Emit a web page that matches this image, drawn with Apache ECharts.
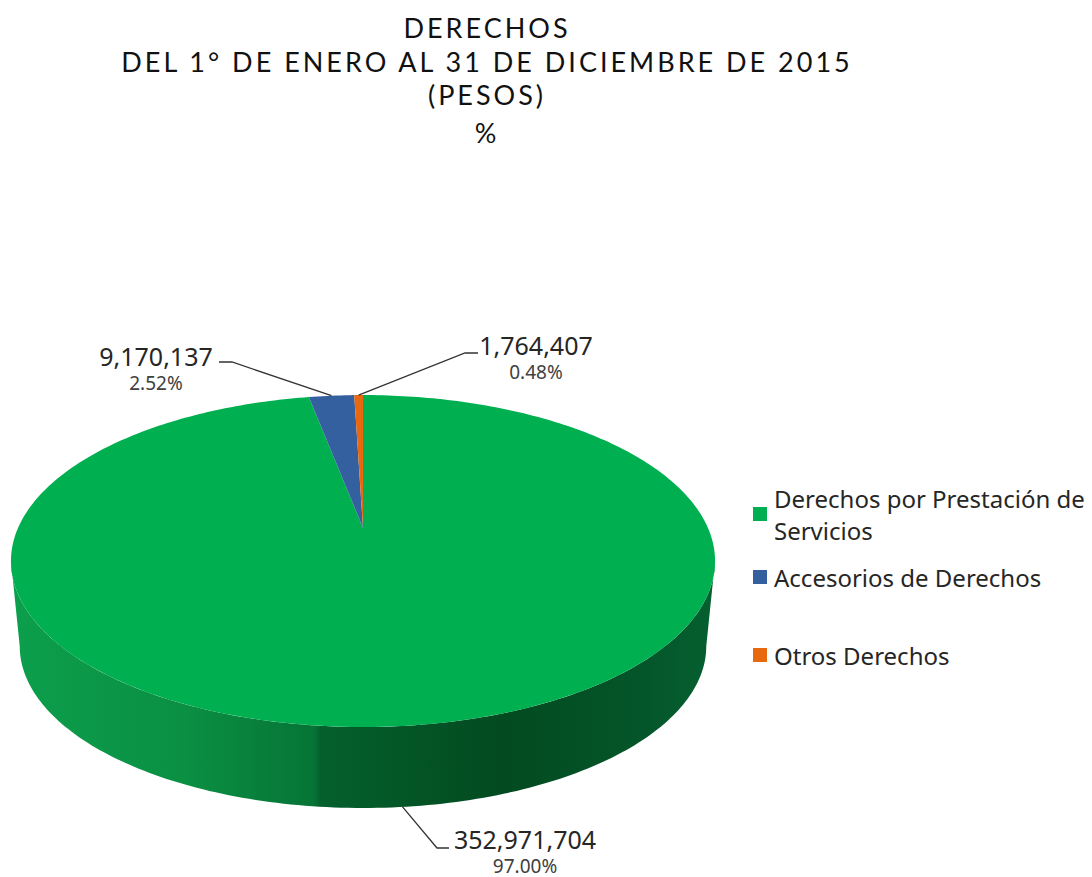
<!DOCTYPE html>
<html>
<head>
<meta charset="utf-8">
<style>
  html, body { margin: 0; padding: 0; background: #fff; }
  #chart { width: 1092px; height: 877px; }
  /* ECharts has no letter spacing option, the svg renderer lets css do it */
  #chart text[style*="Lato"] { letter-spacing: 3px; }
</style>
<script src="https://cdn.jsdelivr.net/npm/echarts@6/dist/echarts.min.js"></script>
</head>
<body>
<div id="chart"></div>
<script>
const titleLines = ['DERECHOS', 'DEL 1° DE ENERO AL 31 DE DICIEMBRE DE 2015', '(PESOS)', '%']
const categories = ['Derechos por Prestación de\nServicios', 'Accesorios de Derechos', 'Otros Derechos']
const values = [352971704, 9170137, 1764407]
const percents = ['97.00%', '2.52%', '0.48%']
const colors = ['#00b050', '#35609f', '#e8680f']

const total = values.reduce((a, b) => a + b, 0)
const chart = echarts.init(document.getElementById('chart'), null, { renderer: 'svg' })

// perspective disc: center of the top face, k is the tilt
const cx = 363
const k = 0.199
const topFace = { cy: 528, a: 345, b: 159.4 }
const bottomFace = { cy: 614, a: 336.4, b: 155.4 }
// angles where the disc is widest on screen, the wall runs between them
const wallFrom = Math.acos(-k) * 180 / Math.PI
const wallTo = 360 - wallFrom

const project = (face, deg) => {
  const t = deg * Math.PI / 180
  const w = 1 + k * Math.cos(t)
  return [cx + face.a * Math.sin(t) / w, face.cy - face.b * Math.cos(t) / w]
}

const arc = (face, from, to) => {
  const n = Math.max(2, Math.ceil(Math.abs(to - from)))
  const pts = []
  for (let i = 0; i <= n; i++) pts.push(project(face, from + (to - from) * i / n))
  return pts
}

const wallFill = {
  type: 'linear', x: 0, y: 0, x2: 1, y2: 0,
  colorStops: [
    { offset: 0, color: '#0c9f4c' },
    { offset: 0.25, color: '#0a8f43' },
    { offset: 0.43, color: '#067436' },
    { offset: 0.44, color: '#04602d' },
    { offset: 0.7, color: '#034a20' },
    { offset: 0.9, color: '#04562a' },
    { offset: 1, color: '#056030' }
  ]
}

// where each label sits, the leader starts on the slice itself
const labelLayout = [
  { x: 525, y: 852, knee: [437, 848], end: [449, 848], face: bottomFace },
  { x: 156, y: 369, knee: [232, 362], end: [219, 362], face: topFace },
  { x: 536, y: 358, knee: [465, 353], end: [478, 353], face: topFace }
]

const makeSlice = (index) => (params, api) => {
  const before = values.slice(0, index).reduce((a, b) => a + b, 0)
  const start = before / total * 360
  const end = start + api.value(0) / total * 360
  const mid = (start + end) / 2
  const children = []

  // side wall only on the part of the slice facing the viewer
  const from = Math.max(start, wallFrom)
  const to = Math.min(end, wallTo)
  if (to > from) {
    children.push({
      type: 'polygon',
      shape: { points: arc(topFace, from, to).concat(arc(bottomFace, from, to).reverse()) },
      style: { fill: wallFill }
    })
  }

  children.push({
    type: 'polygon',
    shape: { points: [[cx, topFace.cy]].concat(arc(topFace, start, end)) },
    style: { fill: colors[index] }
  })

  const lay = labelLayout[index]
  children.push({
    type: 'polyline',
    shape: { points: [project(lay.face, mid), lay.knee, lay.end] },
    style: { stroke: '#333', lineWidth: 1.3, fill: 'none' }
  })
  children.push({
    type: 'text',
    x: lay.x,
    y: lay.y,
    style: {
      text: '{num|' + echarts.format.addCommas(api.value(0)) + '}\n{pct|' + percents[index] + '}',
      align: 'center',
      verticalAlign: 'middle',
      rich: {
        num: { fontFamily: 'Noto Sans', fontSize: 25, lineHeight: 27, fill: '#262626', align: 'center' },
        pct: { fontFamily: 'Noto Sans', fontSize: 19, lineHeight: 27, fill: '#404040', align: 'center' }
      }
    }
  })
  return { type: 'group', children }
}

const legendTops = [477, 556, 634]

chart.setOption({
  animation: false,
  backgroundColor: '#fff',
  title: titleLines.map((text, i) => ({
    text,
    left: 482,
    top: [7, 41, 74, 112][i],
    textAlign: 'center',
    textStyle: {
      fontFamily: 'Lato',
      fontWeight: 'normal',
      fontSize: 27,
      lineHeight: 30,
      color: '#111'
    }
  })),
  legend: categories.map((name, i) => ({
    data: [name],
    left: 748,
    top: legendTops[i],
    icon: 'rect',
    itemWidth: 14,
    itemHeight: 14,
    itemGap: 0,
    selectedMode: false,
    textStyle: {
      fontFamily: 'Noto Sans',
      fontSize: 24,
      lineHeight: 32,
      color: '#262626',
      padding: [0, 0, 0, 2]
    }
  })),
  series: categories.map((name, i) => ({
    type: 'custom',
    name,
    coordinateSystem: 'none',
    z: i + 1,
    silent: true,
    itemStyle: { color: colors[i] },
    data: [[values[i]]],
    renderItem: makeSlice(i)
  }))
})
</script>
</body>
</html>
